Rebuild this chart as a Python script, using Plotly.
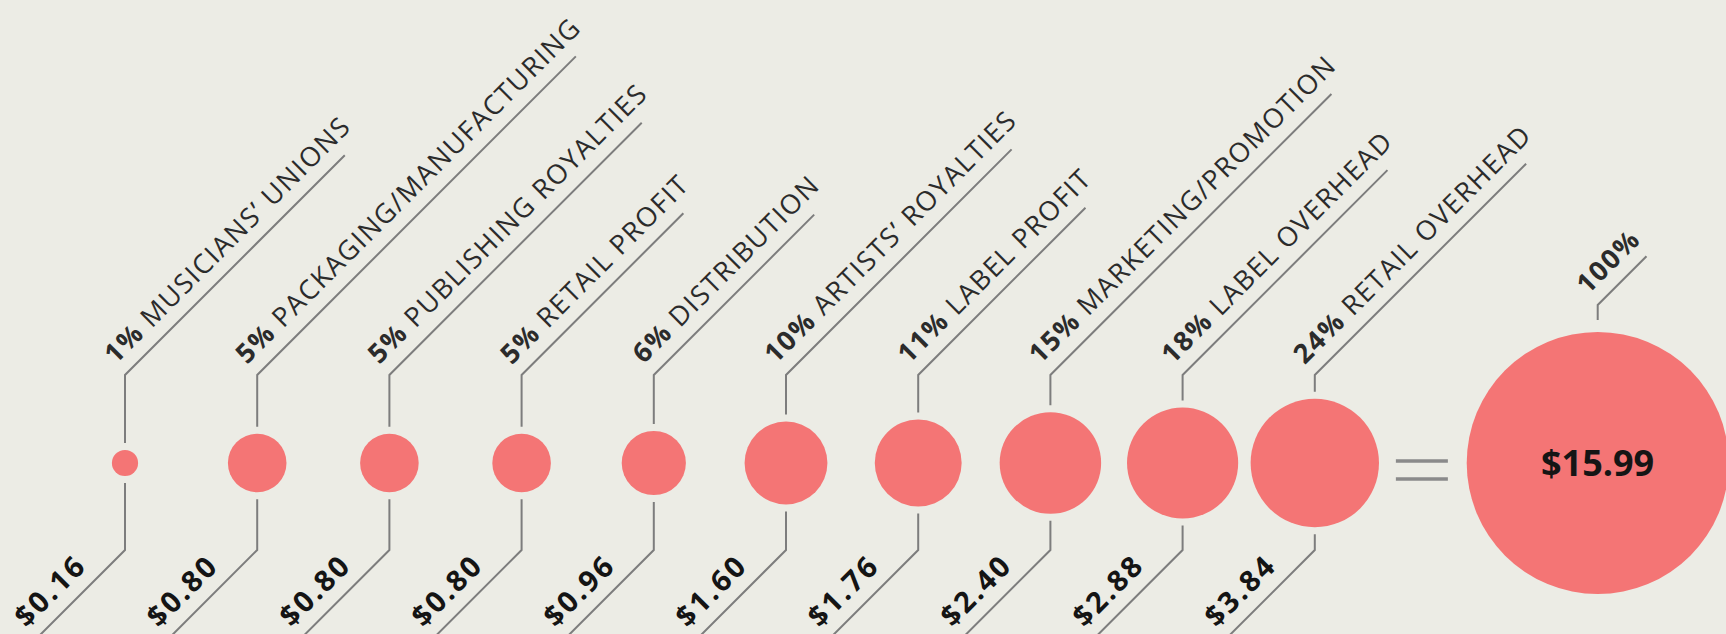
import math
import plotly.graph_objects as go

# ---------------- data ----------------
categories = ["MUSICIANS’ UNIONS", "PACKAGING/MANUFACTURING", "PUBLISHING ROYALTIES",
              "RETAIL PROFIT", "DISTRIBUTION", "ARTISTS’ ROYALTIES", "LABEL PROFIT",
              "MARKETING/PROMOTION", "LABEL OVERHEAD", "RETAIL OVERHEAD"]
percent = [1, 5, 5, 5, 6, 10, 11, 15, 18, 24]
amount = ["$0.16", "$0.80", "$0.80", "$0.80", "$0.96", "$1.60", "$1.76", "$2.40", "$2.88", "$3.84"]
total_percent = 100
total_amount = "$15.99"

# ---------------- layout constants ----------------
W, H = 1726, 634
X0, DX = 125.0, 132.2          # px of first circle, px per category step
X_EQ = 9.81                    # equals sign position (category units)
X_TOTAL = 11.14                # total circle position (category units)
ROW_Y = 463                    # circle row (px from top)
PX_PER_SQRT = 26.2             # marker diameter per sqrt(percent)
TOP_BEND, BOT_BEND = 375, 550
GAP = 7
BG = "#ECECE5"
RED = "#F47575"
LINE = "#7d7d7d"
FONT = "Open Sans"
FS_LABEL, LS_LABEL = 27, 1.5
FS_AMT, LS_AMT = 29, 2.5
BASE_GAP = 14
R2 = math.sqrt(2)

REG = {' ': .26, 'A': .633, 'B': .648, 'C': .631, 'D': .729, 'E': .556, 'F': .516,
       'G': .728, 'H': .738, 'I': .279, 'K': .614, 'L': .519, 'M': .903, 'N': .754,
       'O': .779, 'P': .602, 'R': .618, 'S': .549, 'T': .553, 'U': .728, 'V': .595,
       'Y': .549, '/': .367, '’': .174}
BOLD = {'0': .572, '1': .572, '2': .572, '3': .572, '4': .572, '5': .572, '6': .572,
        '7': .572, '8': .572, '9': .572, '%': .913, '$': .572, '.': .286}


def xd(px):
    return (px - X0) / DX


def xp(idx):
    return X0 + DX * idx


def text_w(bold, reg, fs, ls):
    w = sum(BOLD.get(c, .6) for c in bold) * fs + sum(REG.get(c, .6) for c in reg) * fs
    return w + (len(bold) + len(reg)) * ls


def box_h(fs):
    return round(1.362 * fs + 4)


def desc(fs):
    return 0.293 * fs + 2


fig = go.Figure()

lx, ly = [], []
annotations = []


def top_label(cx, bend_y, vert_end_y, bold, reg, extra):
    tw = text_w(bold, reg, FS_LABEL, LS_LABEL)
    ll = max(tw - extra, 30)
    ex, ey = cx + ll / R2, bend_y - ll / R2
    lx.extend([xd(ex), xd(cx), xd(cx), None])
    ly.extend([ey, bend_y, vert_end_y, None])
    px_, py_ = cx - BASE_GAP / R2, bend_y - BASE_GAP / R2
    hb = box_h(FS_LABEL)
    d = desc(FS_LABEL)
    dx_, dy_ = px_ + d / R2 - 2 / R2, py_ + d / R2 + 2 / R2
    ax, ay = dx_ - hb / R2, dy_
    txt = f'<span style="letter-spacing:{LS_LABEL}px"><b>{bold}</b>{reg}</span>'
    annotations.append(dict(x=xd(ax), y=ay, xref="x", yref="y", text=txt, showarrow=False,
                            textangle=-45, xanchor="left", yanchor="bottom",
                            font=dict(family=FONT, size=FS_LABEL, color="#2b2b2b")))


def bottom_label(cx, bend_y, vert_start_y, text):
    far = 200
    lx.extend([xd(cx), xd(cx), xd(cx - far / R2), None])
    ly.extend([vert_start_y, bend_y, bend_y + far / R2, None])
    end_along = 38
    qx = cx - end_along / R2 - BASE_GAP / R2
    qy = bend_y + end_along / R2 - BASE_GAP / R2
    hb = box_h(FS_AMT)
    d = desc(FS_AMT)
    ex, ey = qx + d / R2 + 2 / R2, qy + d / R2 - 2 / R2
    ax, ay = ex, ey - hb / R2
    txt = f'<span style="letter-spacing:{LS_AMT}px"><b>{text}</b></span>'
    annotations.append(dict(x=xd(ax), y=ay, xref="x", yref="y", text=txt, showarrow=False,
                            textangle=-45, xanchor="right", yanchor="top",
                            font=dict(family=FONT, size=FS_AMT, color="#141414")))


for i, (cat, p, a) in enumerate(zip(categories, percent, amount)):
    cx = xp(i)
    r = PX_PER_SQRT * math.sqrt(p) / 2
    top_label(cx, TOP_BEND, ROW_Y - r - GAP, f"{p}%", " " + cat, 25)
    bottom_label(cx, BOT_BEND, ROW_Y + r + GAP, a)

# total label
cxt = xp(X_TOTAL)
rt = PX_PER_SQRT * math.sqrt(total_percent) / 2
top_label(cxt, ROW_Y - rt - 27, ROW_Y - rt - 12, f"{total_percent}%", "", 8)

# leader lines
fig.add_trace(go.Scatter(x=lx, y=ly, mode="lines", line=dict(color=LINE, width=2),
                         hoverinfo="skip", showlegend=False))

# equals sign
eqc = xp(X_EQ)
fig.add_trace(go.Scatter(x=[xd(eqc - 26), xd(eqc + 26), None, xd(eqc - 26), xd(eqc + 26)],
                         y=[ROW_Y - 2, ROW_Y - 2, None, ROW_Y + 16, ROW_Y + 16],
                         mode="lines", line=dict(color="#8a8a8a", width=3.5),
                         hoverinfo="skip", showlegend=False))

# circles
xs = list(range(len(percent))) + [X_TOTAL]
ps = percent + [total_percent]
fig.add_trace(go.Scatter(x=xs, y=[ROW_Y] * len(xs), mode="markers",
                         marker=dict(size=[PX_PER_SQRT * math.sqrt(p) for p in ps], color=RED,
                                     opacity=1, line=dict(width=0)),
                         hoverinfo="skip", showlegend=False))

annotations.append(dict(x=X_TOTAL, y=ROW_Y - 1, xref="x", yref="y",
                        text=f"<b>{total_amount}</b>", showarrow=False,
                        font=dict(family=FONT, size=36, color="#151515")))

fig.update_layout(
    width=W, height=H, margin=dict(l=0, r=0, t=0, b=0),
    paper_bgcolor=BG, plot_bgcolor=BG,
    xaxis=dict(range=[xd(0), xd(W)], visible=False, fixedrange=True),
    yaxis=dict(range=[H, 0], visible=False, fixedrange=True),
    annotations=annotations,
    hovermode=False,
)

fig.write_html("out.html", config={"displayModeBar": False, "staticPlot": True},
               post_script="document.body.style.margin='0px';document.body.style.overflow='hidden';")
